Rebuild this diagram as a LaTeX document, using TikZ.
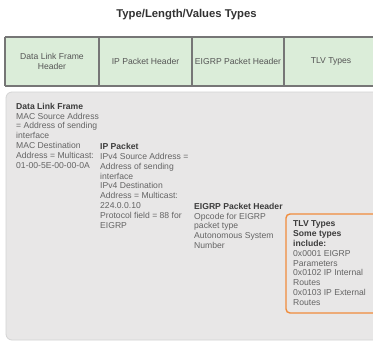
\documentclass[tikz,border=0pt]{standalone}
\usepackage{fontspec}
\setmainfont{Liberation Sans}
\definecolor{hdrgreen}{RGB}{219,237,217}
\definecolor{hdrline}{RGB}{118,118,118}
\definecolor{panelfill}{RGB}{232,231,231}
\definecolor{panelline}{RGB}{212,212,212}
\definecolor{tlvorange}{RGB}{240,140,60}
\definecolor{bodygray}{RGB}{100,100,100}
\definecolor{boldgray}{RGB}{60,60,60}
\definecolor{titlegray}{RGB}{50,50,50}
\definecolor{cellgray}{RGB}{85,85,85}
\newcommand{\hd}[1]{{\bfseries\color{boldgray}#1}}
\begin{document}
\begin{tikzpicture}[x=1pt,y=-1pt,
  titlestyle/.style={inner sep=0pt, text=titlegray, font=\fontsize{11.3}{13}\selectfont\bfseries},
  cell/.style={fill=hdrgreen, draw=none, inner sep=0pt, minimum height=49pt, align=center,
     text=cellgray, font=\fontsize{8.6}{10.2}\selectfont},
  hline/.style={draw=hdrline, line width=2pt},
  vline/.style={draw=hdrline, line width=1.5pt},
  panel/.style={fill=panelfill, draw=panelline, line width=0.8pt, rounded corners=6pt, inner sep=0pt},
  tlvbox/.style={fill=panelfill, draw=tlvorange, line width=1.4pt, rounded corners=4pt, inner sep=0pt},
  body/.style={anchor=north west, inner sep=0pt, align=left, text=bodygray, font=\fontsize{8.6}{9.8}\selectfont}]
\useasboundingbox (0,0) rectangle (373,341);
\fill[white] (0,0) rectangle (373,341);

\node[titlestyle] (title) at (186.5,14.5) {Type/Length/Values Types};

\node[cell, minimum width=94pt] (c1) at (52,61.5) {Data Link Frame\\Header};
\node[cell, minimum width=93pt] (c2) at (145.5,61.5) {IP Packet Header};
\node[cell, minimum width=92pt] (c3) at (238,61.5) {EIGRP Packet Header};
\node[cell, minimum width=94pt] (c4) at (331,61.5) {TLV Types};
\draw[hline] (c1.north west) -- (c4.north east);
\draw[hline] (c1.south west) -- (c4.south east);
\draw[vline] (c1.north west) -- (c1.south west);
\draw[vline] (c1.north east) -- (c1.south east);
\draw[vline] (c2.north east) -- (c2.south east);
\draw[vline] (c3.north east) -- (c3.south east);

\node[panel, minimum width=379pt, minimum height=248pt] (panelbox) at (195.5,216) {};
\node[tlvbox, minimum width=99pt, minimum height=99pt] (tlv) at (335.5,263.5) {};

\node[body] (dlf) at (16,102.8) {\hd{Data Link Frame}\\MAC Source Address\\= Address of sending\\interface\\MAC Destination\\Address = Multicast:\\01-00-5E-00-00-0A};
\node[body] (ip) at (100,143.3) {\hd{IP Packet}\\IPv4 Source Address =\\Address of sending\\interface\\IPv4 Destination\\Address = Multicast:\\224.0.0.10\\Protocol field = 88 for\\EIGRP};
\node[body] (eigrp) at (194,202.8) {\hd{EIGRP Packet Header}\\Opcode for EIGRP\\packet type\\Autonomous System\\Number};
\node[body] (tlvtext) at (293,220.8) {\hd{TLV Types}\\\hd{Some types}\\\hd{include:}\\0x0001 EIGRP\\Parameters\\0x0102 IP Internal\\Routes\\0x0103 IP External\\Routes};
\end{tikzpicture}
\end{document}
